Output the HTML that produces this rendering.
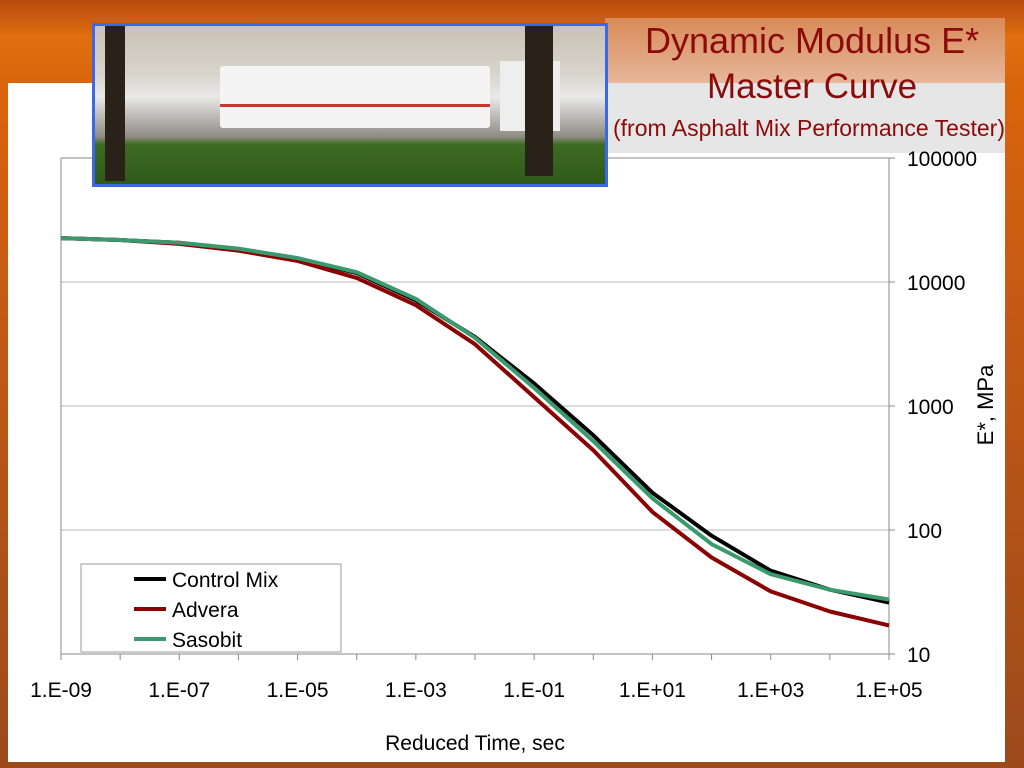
<!DOCTYPE html>
<html><head><meta charset="utf-8"><style>
html,body{margin:0;padding:0}
body{width:1024px;height:768px;position:relative;overflow:hidden;font-family:"Liberation Sans",sans-serif;
background:linear-gradient(180deg,#b84a10 0%,#e0700f 5%,#d9650c 11%,#c45a14 40%,#9c4a1c 100%);}
#slide{position:absolute;left:8px;top:83px;width:997px;height:679px;background:#fff}
#titlebox{position:absolute;left:605px;top:83px;width:400px;height:70px;background:#e6e6e6}
#titletop{position:absolute;left:605px;top:18px;width:400px;height:65px;background:linear-gradient(180deg,#d98a58,#e6b79a)}
#photo{position:absolute;left:92px;top:23px;width:510px;height:158px;border:3px solid #3c68e8;
background:linear-gradient(180deg,#c9c2b4 0%,#d8d4cc 30%,#e8e8e8 45%,#8f8c84 70%,#3d6b22 75%,#2f5a1a 100%)}
.t{position:absolute;color:#8b0a0a;font-family:"Liberation Sans",sans-serif;white-space:nowrap}
</style></head><body>
<div id="titletop"></div>
<div id="slide"></div>
<div id="titlebox"></div>
<div class="t" style="left:645px;top:20px;font-size:36px">Dynamic Modulus E*</div>
<div class="t" style="left:707px;top:67px;font-size:35px">Master Curve</div>
<div class="t" style="left:613px;top:115px;font-size:23px">(from Asphalt Mix Performance Tester)</div>
<svg id="chart" width="1024" height="768" style="position:absolute;left:0;top:0"></svg>
<div id="photo">
<div style="position:absolute;left:125px;top:40px;width:270px;height:62px;background:#f4f4f4;border-radius:3px"></div>
<div style="position:absolute;left:125px;top:78px;width:270px;height:3px;background:#c33"></div>
<div style="position:absolute;left:405px;top:35px;width:60px;height:70px;background:#eee"></div>
<div style="position:absolute;left:430px;top:0;width:28px;height:150px;background:#2a2218"></div>
<div style="position:absolute;left:10px;top:0;width:20px;height:155px;background:#2a2218"></div>
</div>
<script>
const ticksX=["1.E-09","1.E-07","1.E-05","1.E-03","1.E-01","1.E+01","1.E+03","1.E+05"];
const ticksY=[10,100,1000,10000,100000];
const logT=[-9,-8,-7,-6,-5,-4,-3,-2,-1,0,1,2,3,4,5];
const control=[22600,21800,20700,18400,15500,11800,7100,3600,1520,580,200,90,47,33,26];
const advera=[22600,21800,20300,17900,14800,10800,6500,3150,1180,440,140,60,32,22,17];
const sasobit=[22600,21800,20700,18600,15600,12000,7300,3550,1400,520,180,77,44,33,27.5];
const series=[["Control Mix",control,"#000"],["Advera",advera,"#8b0000"],["Sasobit",sasobit,"#3a9a6e"]];
const L=61,R=889,T=158,B=654;
const X=v=>L+(v+9)/14*(R-L);
const Y=v=>T+(5-Math.log10(v))/4*(B-T);
const svg=document.getElementById('chart');const NS="http://www.w3.org/2000/svg";
function mk(tag,attrs,name){const e=document.createElementNS(NS,tag);for(const k in attrs)e.setAttribute(k,attrs[k]);


svg.appendChild(e);return e;}
ticksY.forEach(v=>{const y=Y(v);
if(v>10&&v<100000)mk('line',{x1:L,x2:R,y1:y,y2:y,stroke:'#bbb','stroke-width':1},'gridline');
mk('line',{x1:R,x2:R+6,y1:y,y2:y,stroke:'#888'},'y-tick');
const t=mk('text',{x:907,y:y+8,'font-size':21,fill:'#000'},'y-tick-label');t.textContent=String(v);});
mk('line',{x1:L,x2:R,y1:T,y2:T,stroke:'#888'},'plot-top-border');
mk('line',{x1:L,x2:L,y1:T,y2:B,stroke:'#888'},'plot-left-border');
mk('line',{x1:R,x2:R,y1:T,y2:B,stroke:'#888'},'y-axis-line');
mk('line',{x1:L,x2:R,y1:B,y2:B,stroke:'#888'},'x-axis-line');
ticksX.forEach(s=>{const e=parseInt(s.slice(3));const x=X(e);
mk('line',{x1:x,x2:x,y1:B,y2:B+6,stroke:'#888'},'x-tick');
const t=mk('text',{x:x,y:697,'font-size':21,'text-anchor':'middle',fill:'#000'},'x-tick-label');t.textContent=s;});
for(let e=-8;e<=4;e+=2){mk('line',{x1:X(e),x2:X(e),y1:B,y2:B+6,stroke:'#888'},'x-minor-tick');}
series.forEach(([n,d,c])=>{const p=d.map((v,i)=>X(logT[i]).toFixed(1)+','+Y(v).toFixed(1)).join(' ');
mk('polyline',{points:p,fill:'none',stroke:c,'stroke-width':4,'stroke-linejoin':'round'},'series-'+n.toLowerCase().replace(/ /g,'-'));});
mk('rect',{x:81,y:564,width:260,height:88,fill:'#fff',stroke:'#999'},'legend');
series.forEach(([n,d,c],i)=>{const y=579+i*30;
mk('line',{x1:134,x2:166,y1:y,y2:y,stroke:c,'stroke-width':4},'legend-swatch');
const t=mk('text',{x:172,y:y+8,'font-size':21,fill:'#000'},'legend-entry');t.textContent=n;});
const xt=mk('text',{x:475,y:750,'font-size':21,'text-anchor':'middle',fill:'#000'},'x-axis-title');xt.textContent='Reduced Time, sec';
const yt=mk('text',{x:993,y:405,'font-size':22,'text-anchor':'middle',fill:'#000',transform:'rotate(-90 993 405)'},'y-axis-title');yt.textContent='E*, MPa';
</script>
</body></html>
